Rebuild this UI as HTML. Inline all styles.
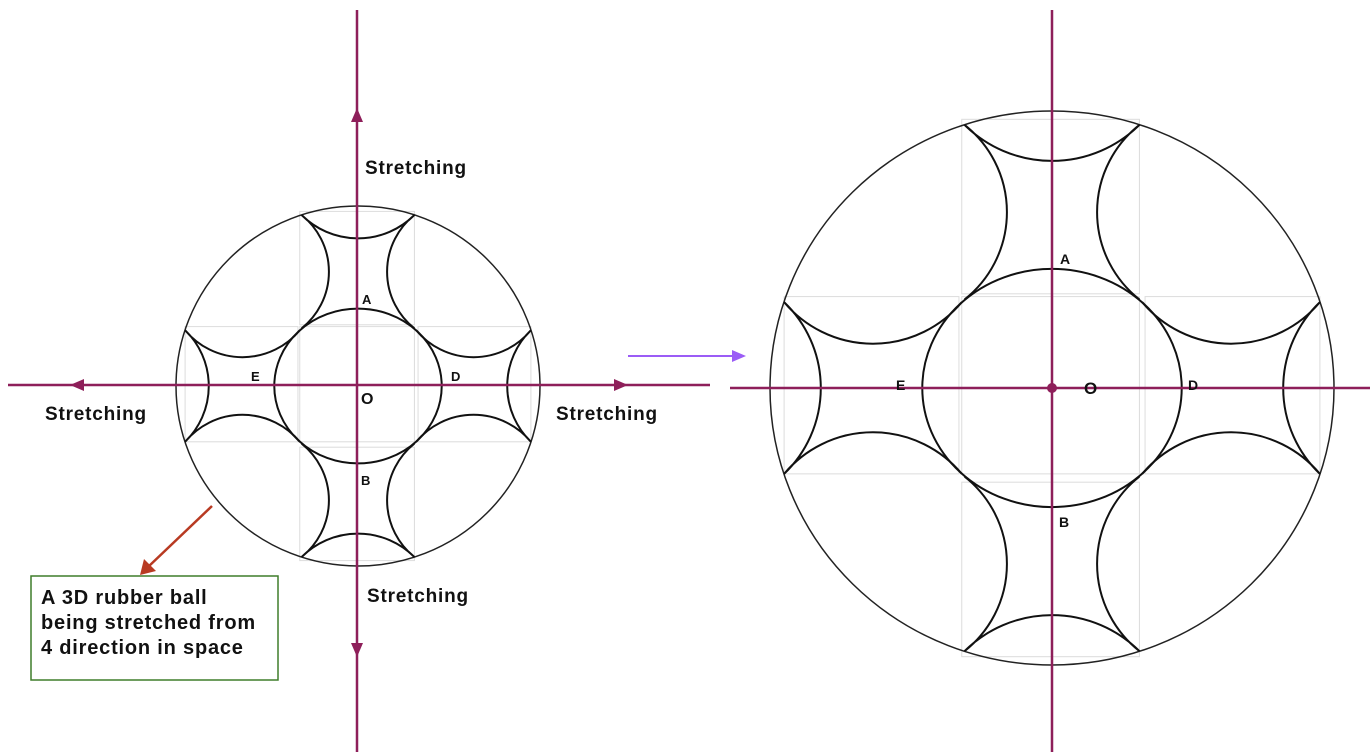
<!DOCTYPE html>
<html><head><meta charset="utf-8"><style>
html,body{margin:0;padding:0;background:#fff;}
svg{display:block;}
text{font-family:"Liberation Sans",Arial,sans-serif;font-weight:bold;fill:#111;}
</style></head><body>
<svg id="s" width="1372" height="756" viewBox="0 0 1372 756" xmlns="http://www.w3.org/2000/svg">
<g id="g1"></g><g id="g2"></g>
<g stroke="#8e1f5a" stroke-width="2.5" fill="#8e1f5a">
<line x1="357" y1="10" x2="357" y2="752"/>
<line x1="8" y1="385" x2="710" y2="385"/>
<polygon points="357,108 351,122 363,122" stroke="none"/>
<polygon points="357,657 351,643 363,643" stroke="none"/>
<polygon points="70,385 84,379 84,391" stroke="none"/>
<polygon points="628,385 614,379 614,391" stroke="none"/>
<line x1="1052" y1="10" x2="1052" y2="752"/>
<line x1="730" y1="388" x2="1370" y2="388"/>
<circle cx="1052" cy="388" r="5" stroke="none"/>
</g>
<line x1="628" y1="356" x2="734" y2="356" stroke="#9b5cf6" stroke-width="2"/>
<polygon points="746,356 732,350 732,362" fill="#9b5cf6"/>
<line x1="212" y1="506" x2="148" y2="567" stroke="#b83a22" stroke-width="2.5"/>
<polygon points="140,575 144,559 156,571" fill="#b83a22"/>
<rect x="31" y="576" width="247" height="104" fill="#fff" stroke="#3f7d2a" stroke-width="1.5"/>
<g font-size="20" letter-spacing="0.8">
<text x="41" y="604">A 3D rubber ball</text>
<text x="41" y="629">being stretched from</text>
<text x="41" y="654">4 direction in space</text>
</g>
<g font-size="19" letter-spacing="0.8">
<text x="365" y="174">Stretching</text>
<text x="45" y="420">Stretching</text>
<text x="556" y="420">Stretching</text>
<text x="367" y="602">Stretching</text>
</g>
<text x="362" y="304" font-size="13">A</text>
<text x="251" y="381" font-size="13">E</text>
<text x="451" y="381" font-size="13">D</text>
<text x="361" y="404" font-size="16">O</text>
<text x="361" y="485" font-size="13">B</text>
<text x="1060" y="264" font-size="14">A</text>
<text x="896" y="390" font-size="14">E</text>
<text x="1084" y="394" font-size="17">O</text>
<text x="1188" y="390" font-size="14">D</text>
<text x="1059" y="527" font-size="14">B</text>
</svg>
<script>
function draw(gid,cx,cy,R,Ry){
  var g=document.getElementById(gid),h='';
  var w=0.31,o=0.95,ap=0.82,sa=0.16,ix=0.46,iy=0.43,inC=0.32;
  function X(x){return cx+x*R;} function Y(y){return cy+y*Ry;}
  function pt(x,y){return X(x).toFixed(1)+','+Y(y).toFixed(1);}
  function arc(x1,y1,x2,y2,sag,sw){
    var dx=X(x2)-X(x1),dy=Y(y2)-Y(y1),L=Math.sqrt(dx*dx+dy*dy);
    var r=(L*L/4+sag*sag)/(2*sag);
    return ' A'+r.toFixed(1)+','+r.toFixed(1)+' 0 0 '+sw+' '+pt(x2,y2);
  }
  var boxes=[[-0.32,-0.97,0.31,-0.34],[-0.32,0.34,0.31,0.97],[-0.95,-0.33,-0.33,0.31],[0.33,-0.33,0.95,0.31],[-0.32,-0.33,0.31,0.31]];
  boxes.forEach(function(b){h+='<rect x="'+X(b[0])+'" y="'+Y(b[1])+'" width="'+((b[2]-b[0])*R)+'" height="'+((b[3]-b[1])*Ry)+'" fill="none" stroke="#dcdcdc" stroke-width="1"/>';});
  h+='<ellipse cx="'+cx+'" cy="'+cy+'" rx="'+R+'" ry="'+Ry+'" fill="none" stroke="#222" stroke-width="1.5"/>';
  h+='<ellipse cx="'+cx+'" cy="'+cy+'" rx="'+(ix*R)+'" ry="'+(iy*Ry)+'" fill="none" stroke="#111" stroke-width="2"/>';
  var sideSag=(w-sa)*R, topSag=(o-ap)*Ry, sideSagH=(w-sa)*Ry, topSagH=(o-ap)*R;
  [-1,1].forEach(function(s){
    var sw=(s==-1)?1:0;
    h+='<path d="M'+pt(w,s*inC)+arc(w,s*inC,w,s*o,sideSag,sw)+arc(w,s*o,-w,s*o,topSag,sw)+arc(-w,s*o,-w,s*inC,sideSag,sw)+'" fill="none" stroke="#111" stroke-width="2"/>';
    var sh=(s==1)?1:0;
    h+='<path d="M'+pt(s*inC,w)+arc(s*inC,w,s*o,w,sideSagH,sh)+arc(s*o,w,s*o,-w,topSagH,sh)+arc(s*o,-w,s*inC,-w,sideSagH,sh)+'" fill="none" stroke="#111" stroke-width="2"/>';
  });
  g.innerHTML=h;
}
draw('g1',358,386,182,180);
draw('g2',1052,388,282,277);
</script>
</body></html>
